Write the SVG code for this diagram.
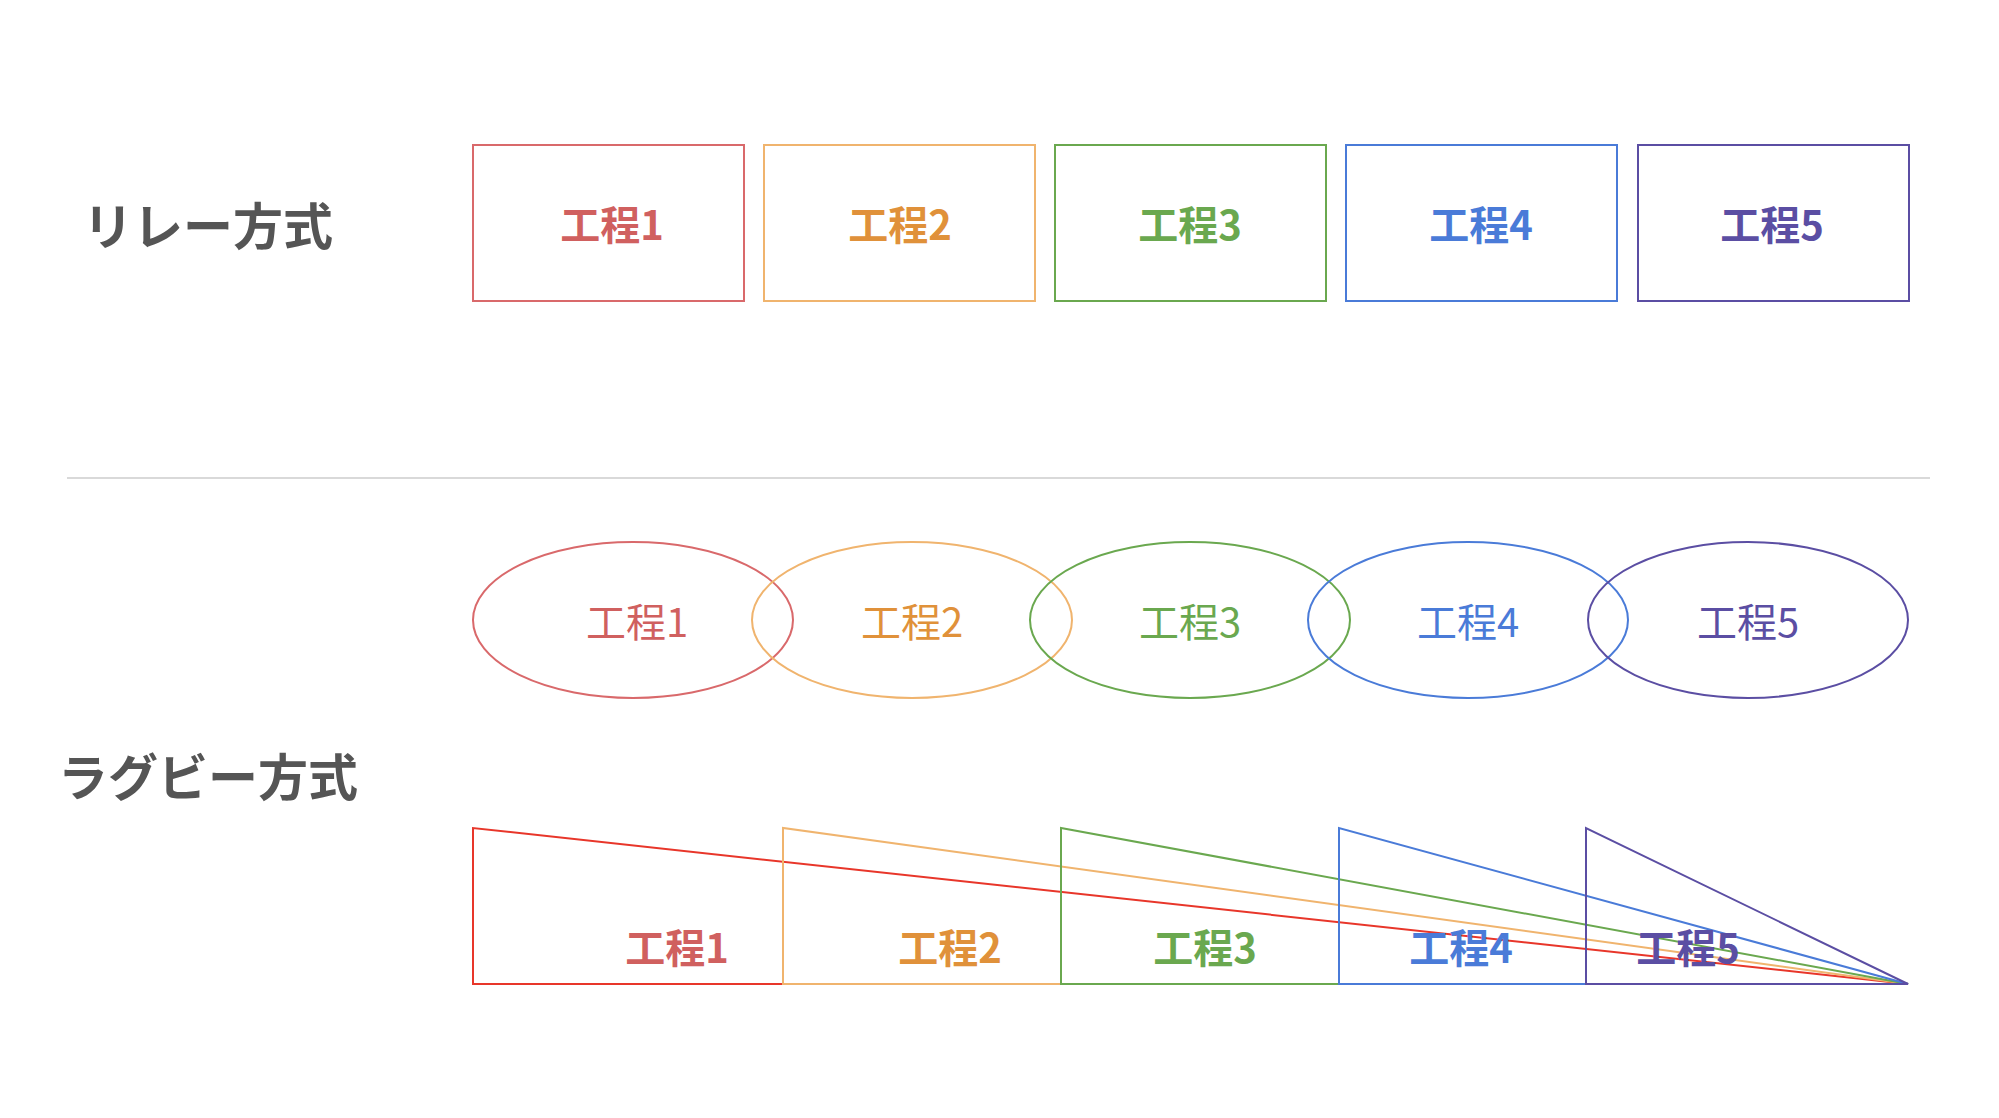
<svg xmlns="http://www.w3.org/2000/svg" width="1999" height="1118" viewBox="0 0 1999 1118">
<style>
text{font-family:"Noto Sans CJK JP","Noto Sans",sans-serif;text-anchor:middle;dominant-baseline:central}
.b{font-weight:bold;font-size:40px}
.n{font-size:40px}
.t{font-weight:bold;font-size:50px;fill:#555}
.s{fill:none;stroke-width:2}
.c1{stroke:#d9696b}.c2{stroke:#f0b46e}.c3{stroke:#6aa84f}.c4{stroke:#4a7bd8}.c5{stroke:#5b4ea3}
.f1{fill:#d0605f}.f2{fill:#e0913a}.f3{fill:#6aa84f}.f4{fill:#4a7bd8}.f5{fill:#5b4ea3}
</style>
<rect width="1999" height="1118" fill="#fff"/>
<text class="t" x="208" y="223">リレー方式</text>
<text class="t" x="208" y="774">ラグビー方式</text>
<line x1="67" y1="478" x2="1930" y2="478" stroke="#d9d9d9" stroke-width="2"/>
<g id="relay1"><rect class="s c1" x="473" y="145" width="271" height="156"/><text class="b f1" x="612" y="223">工程1</text></g>
<g id="relay2"><rect class="s c2" x="764" y="145" width="271" height="156"/><text class="b f2" x="900" y="223">工程2</text></g>
<g id="relay3"><rect class="s c3" x="1055" y="145" width="271" height="156"/><text class="b f3" x="1190" y="223">工程3</text></g>
<g id="relay4"><rect class="s c4" x="1346" y="145" width="271" height="156"/><text class="b f4" x="1481" y="223">工程4</text></g>
<g id="relay5"><rect class="s c5" x="1638" y="145" width="271" height="156"/><text class="b f5" x="1772" y="223">工程5</text></g>
<g id="ell1"><ellipse class="s c1" cx="633" cy="620" rx="160" ry="78"/><text class="n f1" x="637" y="620">工程1</text></g>
<g id="ell2"><ellipse class="s c2" cx="912" cy="620" rx="160" ry="78"/><text class="n f2" x="912" y="620">工程2</text></g>
<g id="ell3"><ellipse class="s c3" cx="1190" cy="620" rx="160" ry="78"/><text class="n f3" x="1190" y="620">工程3</text></g>
<g id="ell4"><ellipse class="s c4" cx="1468" cy="620" rx="160" ry="78"/><text class="n f4" x="1468" y="620">工程4</text></g>
<g id="ell5"><ellipse class="s c5" cx="1748" cy="620" rx="160" ry="78"/><text class="n f5" x="1748" y="620">工程5</text></g>
<g id="tri1"><polygon class="s" stroke="#e8362a" points="473,828 473,984 1908,984"/><text class="b f1" x="677" y="946">工程1</text></g>
<g id="tri2"><polygon class="s c2" points="783,828 783,984 1908,984"/><text class="b f2" x="950" y="946">工程2</text></g>
<g id="tri3"><polygon class="s c3" points="1061,828 1061,984 1908,984"/><text class="b f3" x="1205" y="946">工程3</text></g>
<g id="tri4"><polygon class="s c4" points="1339,828 1339,984 1908,984"/><text class="b f4" x="1461" y="946">工程4</text></g>
<g id="tri5"><polygon class="s c5" points="1586,828 1586,984 1908,984"/><text class="b f5" x="1688" y="946">工程5</text></g>
</svg>
